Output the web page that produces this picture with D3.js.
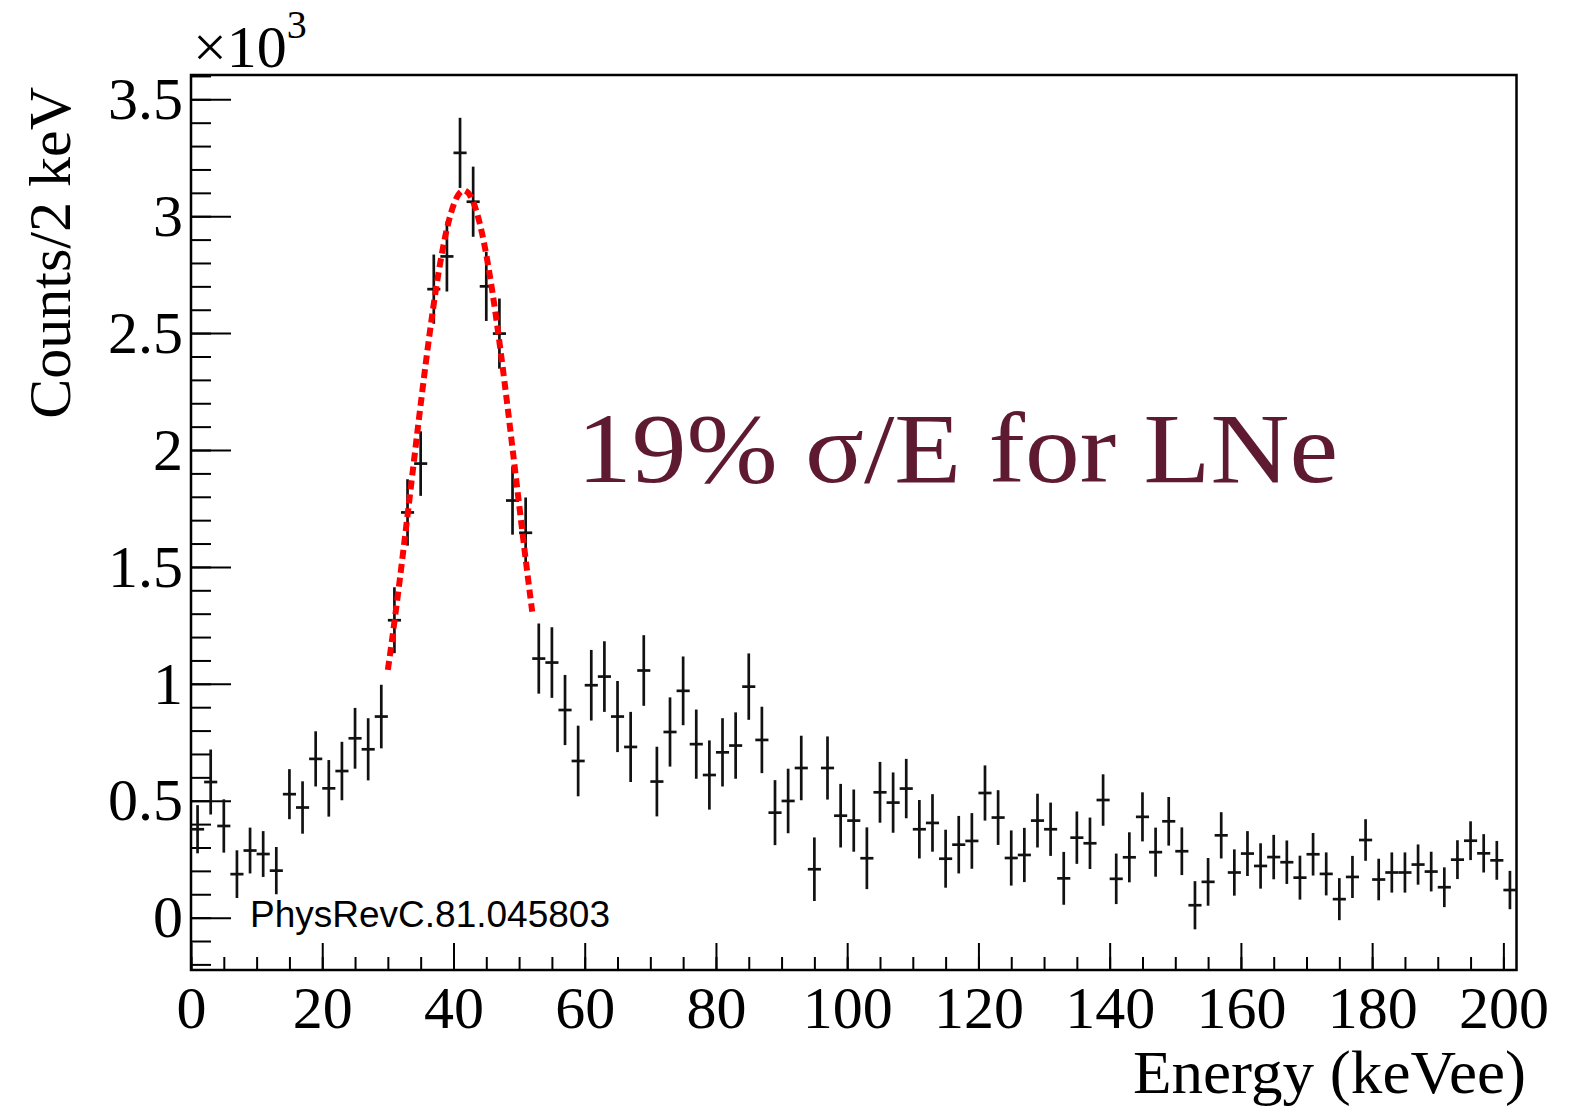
<!DOCTYPE html>
<html>
<head>
<meta charset="utf-8">
<script src="https://cdn.jsdelivr.net/npm/d3@7"></script>
<style>
  html, body { margin: 0; padding: 0; background: #fff; }
  svg { display: block; }
</style>
</head>
<body>
<div id="chart"></div>
<script>
// energy spectrum, 2 keV bins from 0 to 202 keVee
const binWidth = 2;
const energyRange = [0, 202];

const counts = [
    378, 580, 392, 186, 287, 272, 201, 528, 471, 679,
    553, 627, 767, 720, 860, 1272, 1733, 1942, 2688, 2828,
    3271, 3062, 2700, 2498, 1784, 1646, 1108, 1091, 888, 670,
    994, 1031, 860, 730, 1057, 582, 794, 970, 742, 610,
    707, 736, 988, 760, 449, 499, 640, 207, 640, 436,
    415, 254, 536, 492, 552, 378, 405, 252, 312, 328,
    533, 428, 255, 268, 415, 378, 168, 342, 318, 503,
    166, 258, 431, 280, 412, 284, 53, 153, 352, 193,
    274, 221, 259, 237, 171, 271, 187, 79, 174, 332,
    163, 193, 193, 227, 197, 130, 248, 329, 275, 245,
    118
];

const errors = [
    103, 139, 114, 102, 98, 98, 101, 107, 112, 118,
    121, 125, 130, 133, 136, 141, 142, 138, 148, 150,
    150, 150, 148, 150, 146, 151, 150, 151, 150, 151,
    151, 151, 152, 150, 151, 149, 148, 147, 148, 148,
    146, 142, 142, 142, 139, 138, 138, 136, 135, 136,
    133, 132, 130, 129, 127, 125, 123, 124, 123, 119,
    118, 117, 118, 116, 115, 114, 113, 112, 110, 110,
    108, 107, 105, 105, 104, 102, 103, 102, 99, 99,
    96, 97, 95, 93, 94, 91, 92, 90, 90, 89,
    89, 86, 86, 86, 85, 85, 83, 83, 82, 83,
    82
];

const xTicks = [0, 20, 40, 60, 80, 100, 120, 140, 160, 180, 200];
const yTicks = [0, 500, 1000, 1500, 2000, 2500, 3000, 3500];
const yRange = [-224, 3604];

// gaussian fit of the peak
const fitMean = 41.6;
const fitResolution = 0.19;
const fitAmplitude = 3110;
const fitRange = [30, 52];

const sourceLabel = 'PhysRevC.81.045803';
const resolutionLabel = '19% σ/E for LNe';

const energies = counts.map((d, i) => binWidth * i + binWidth / 2);
const points = counts.map((c, i) => ({ e: energies[i], c: c, err: errors[i] }));

const svgWidth = 1580;
const svgHeight = 1106;
const frame = { left: 191, right: 1516.5, top: 75, bottom: 970 };
const serif = '"Liberation Serif", "Times New Roman", serif';

const svg = d3.select('#chart')
    .append('svg')
    .attr('width', svgWidth)
    .attr('height', svgHeight);

svg.append('rect')
    .attr('width', svgWidth)
    .attr('height', svgHeight)
    .attr('fill', '#fff');

const xScale = d3.scaleLinear()
    .domain(energyRange)
    .range([frame.left, frame.right]);

const yScale = d3.scaleLinear()
    .domain(yRange)
    .range([frame.bottom, frame.top]);

// minor ticks first, then major ticks with labels
const xMinor = svg.append('g')
    .attr('transform', `translate(0,${frame.bottom})`)
    .call(d3.axisBottom(xScale).tickValues(d3.range(0, 201, 5)).tickSize(-13).tickFormat(''));

const xMajor = svg.append('g')
    .attr('transform', `translate(0,${frame.bottom})`)
    .call(d3.axisBottom(xScale).tickValues(xTicks).tickSize(-27).tickPadding(15));

const yMinor = svg.append('g')
    .attr('transform', `translate(${frame.left},0)`)
    .call(d3.axisLeft(yScale).tickValues(d3.range(-200, 3601, 100)).tickSize(-20).tickFormat(''));

const yMajor = svg.append('g')
    .attr('transform', `translate(${frame.left},0)`)
    .call(d3.axisLeft(yScale).tickValues(yTicks).tickSize(-40).tickPadding(8).tickFormat(d => d / 1000));

[xMinor, xMajor, yMinor, yMajor].forEach(g => {
    g.select('.domain').remove();
    g.selectAll('.tick line').attr('stroke', '#000').attr('stroke-width', 2);
    g.selectAll('.tick text')
        .attr('fill', '#000')
        .style('font-family', serif)
        .style('font-size', '60px');
});

svg.append('rect')
    .attr('x', frame.left)
    .attr('y', frame.top)
    .attr('width', frame.right - frame.left)
    .attr('height', frame.bottom - frame.top)
    .attr('fill', 'none')
    .attr('stroke', '#000')
    .attr('stroke-width', 2.5);

// error bars: vertical = uncertainty, horizontal = bin width
const marks = svg.append('g')
    .attr('stroke', '#111')
    .attr('stroke-width', 2.7);

marks.selectAll('line.err')
    .data(points)
    .enter()
    .append('line')
    .attr('class', 'err')
    .attr('x1', d => xScale(d.e))
    .attr('x2', d => xScale(d.e))
    .attr('y1', d => yScale(d.c - d.err))
    .attr('y2', d => yScale(d.c + d.err));

marks.selectAll('line.bin')
    .data(points)
    .enter()
    .append('line')
    .attr('class', 'bin')
    .attr('x1', d => xScale(d.e - binWidth / 2))
    .attr('x2', d => xScale(d.e + binWidth / 2))
    .attr('y1', d => yScale(d.c))
    .attr('y2', d => yScale(d.c));

// fit curve
const fitSigma = fitResolution * fitMean;
const gauss = e => fitAmplitude * Math.exp(-((e - fitMean) ** 2) / (2 * fitSigma * fitSigma));
const fitLine = d3.line()
    .x(d => xScale(d))
    .y(d => yScale(gauss(d)));

svg.append('path')
    .datum(d3.range(fitRange[0], fitRange[1] + 0.001, 0.2))
    .attr('d', fitLine)
    .attr('fill', 'none')
    .attr('stroke', '#ff0000')
    .attr('stroke-width', 6)
    .attr('stroke-dasharray', '9,5');

// axis titles
svg.append('text')
    .attr('transform', 'translate(70,87) rotate(-90)')
    .attr('text-anchor', 'end')
    .style('font-family', serif)
    .style('font-size', '60px')
    .text('Counts/2 keV');

svg.append('text')
    .attr('x', 1133)
    .attr('y', 1093)
    .attr('textLength', 393)
    .attr('lengthAdjust', 'spacingAndGlyphs')
    .style('font-family', serif)
    .style('font-size', '62px')
    .text('Energy (keVee)');

const scaleText = svg.append('text')
    .attr('x', 193)
    .attr('y', 67)
    .style('font-family', serif)
    .style('font-size', '60px');
scaleText.append('tspan').text('×10');
scaleText.append('tspan')
    .attr('dy', -29)
    .style('font-size', '40px')
    .text('3');

svg.append('text')
    .attr('x', 250)
    .attr('y', 927)
    .style('font-family', '"Liberation Sans", Arial, sans-serif')
    .style('font-size', '37px')
    .attr('fill', '#000')
    .text(sourceLabel);

svg.append('text')
    .attr('x', 577)
    .attr('y', 482)
    .attr('textLength', 761)
    .attr('lengthAdjust', 'spacingAndGlyphs')
    .style('font-family', serif)
    .style('font-size', '100px')
    .attr('fill', '#5e1a30')
    .text(resolutionLabel);
</script>
</body>
</html>
